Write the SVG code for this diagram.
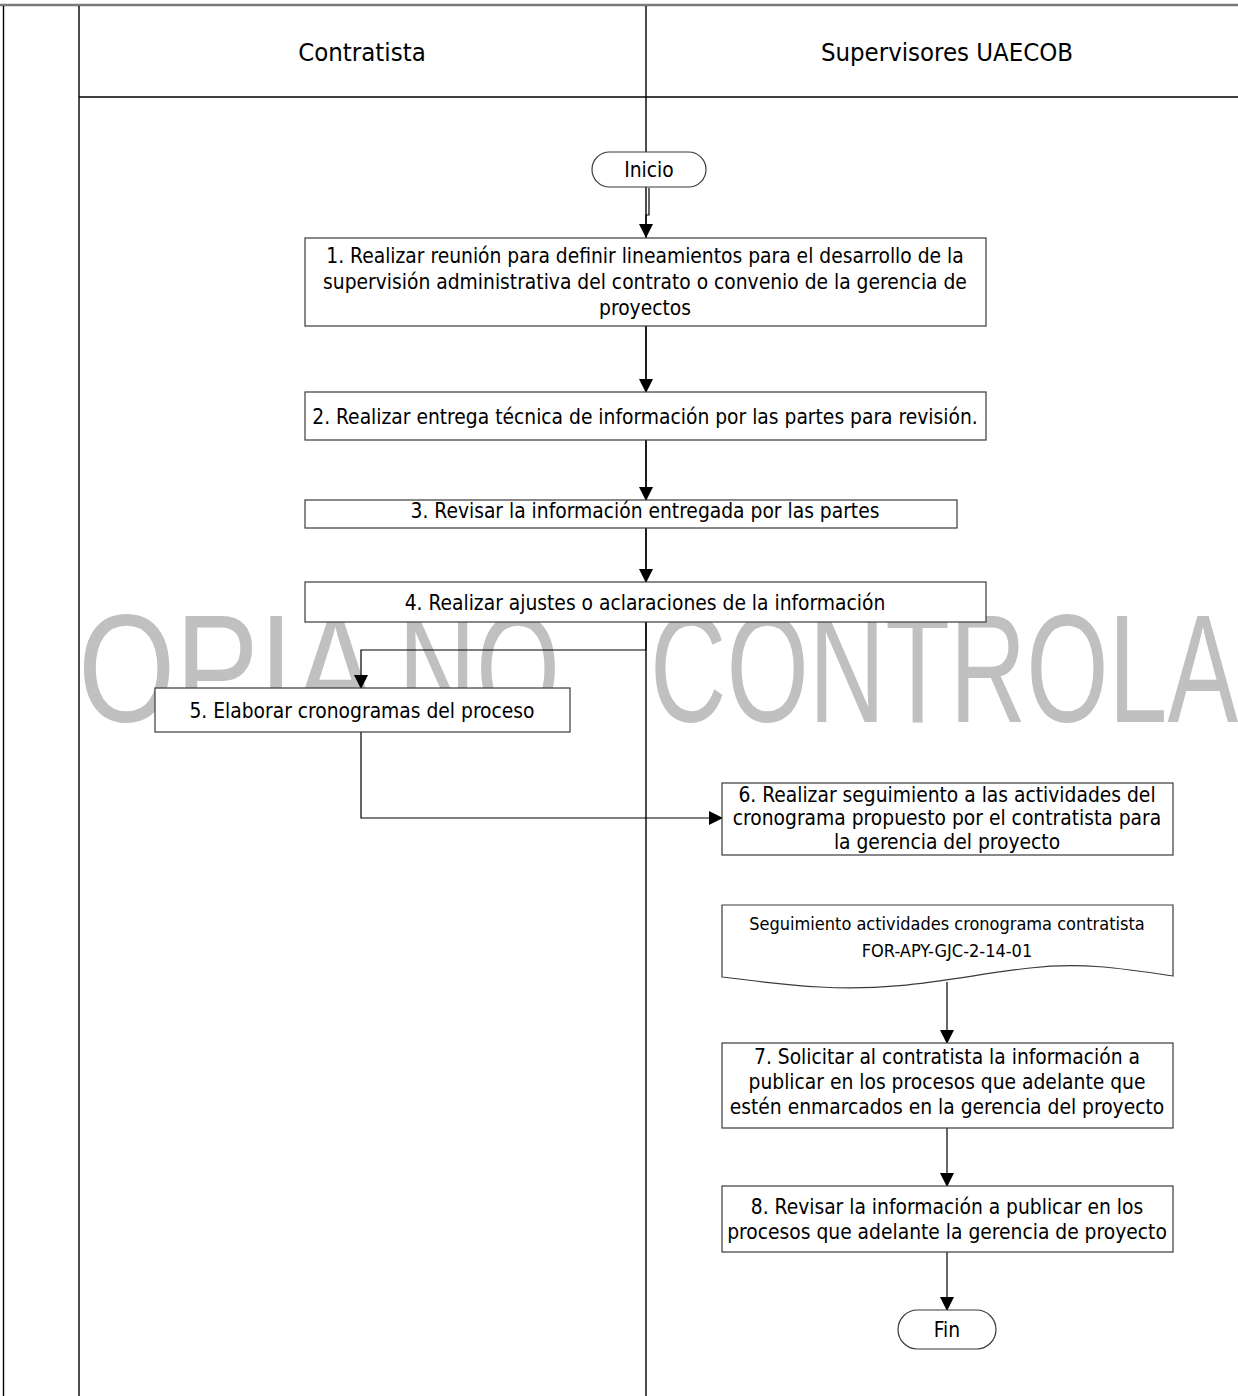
<svg xmlns="http://www.w3.org/2000/svg" width="1238" height="1396" viewBox="0 0 1238 1396">
<style>
.lane{stroke:#000;stroke-width:1.4;fill:none}
.box{fill:#fff;stroke:#3a3a3a;stroke-width:1.2}
.t{font-family:"DejaVu Sans Condensed","DejaVu Sans",sans-serif;font-size:20.8px;fill:#000;text-anchor:middle}
.h{font-family:"DejaVu Sans Condensed","DejaVu Sans",sans-serif;font-size:25.5px;fill:#000;text-anchor:middle}
.s{font-family:"DejaVu Sans Condensed","DejaVu Sans",sans-serif;font-size:18px;fill:#000;text-anchor:middle}
.c{stroke:#000;stroke-width:1.2;fill:none;marker-end:url(#ah)}
.wm{font-family:"Liberation Sans",Arial,sans-serif;font-size:154px;fill:#c0c0c0}
</style>
<defs>
<marker id="ah" markerWidth="14" markerHeight="14" refX="13" refY="7" orient="auto" markerUnits="userSpaceOnUse">
<path d="M0,0 L14,7 L0,14 Z" fill="#000"/>
</marker>
</defs>
<rect x="0" y="0" width="1238" height="1396" fill="#fff"/>
<g id="watermark">
<text class="wm" y="722"><tspan x="78" textLength="292" lengthAdjust="spacingAndGlyphs">OPIA</tspan> <tspan x="398" textLength="162" lengthAdjust="spacingAndGlyphs">NO</tspan> <tspan x="650" textLength="588" lengthAdjust="spacingAndGlyphs">CONTROLA</tspan></text>
</g>
<g id="pool">
<line x1="0" y1="5" x2="1238" y2="5" stroke="#7a7a7a" stroke-width="2.5"/>
<line class="lane" x1="3.5" y1="6" x2="3.5" y2="1396"/>
<line class="lane" x1="79" y1="6" x2="79" y2="1396"/>
<line class="lane" x1="646" y1="6" x2="646" y2="1396" stroke-width="1.1"/>
<line class="lane" x1="79" y1="97" x2="1238" y2="97" stroke-width="1.1"/>
<text class="h" x="362" y="61">Contratista</text>
<text class="h" x="947" y="61">Supervisores UAECOB</text>
</g>
<g id="connectors">
<path class="c" d="M649,188 V215 H646 V237"/>
<path class="c" d="M646,326 V392"/>
<path class="c" d="M646,440 V500"/>
<path class="c" d="M646,528 V582"/>
<path class="c" d="M646,622 V650 H361 V688"/>
<path class="c" d="M361,732 V818 H722"/>
<path class="c" d="M947,982 V1043"/>
<path class="c" d="M947,1128 V1186"/>
<path class="c" d="M947,1252 V1310"/>
</g>
<g id="inicio">
<rect class="box" x="592" y="152" width="114" height="35" rx="17.5"/>
<text class="t" x="649" y="177">Inicio</text>
</g>
<g id="n1">
<rect class="box" x="305" y="238" width="681" height="88"/>
<text class="t" x="645" y="263">1. Realizar reunión para definir lineamientos para el desarrollo de la</text>
<text class="t" x="645" y="289">supervisión administrativa del contrato o convenio de la gerencia de</text>
<text class="t" x="645" y="315">proyectos</text>
</g>
<g id="n2">
<rect class="box" x="305" y="392" width="681" height="48"/>
<text class="t" x="645" y="424">2. Realizar entrega técnica de información por las partes para revisión.</text>
</g>
<g id="n3">
<rect class="box" x="305" y="500" width="652" height="28"/>
<text class="t" x="645" y="518">3. Revisar la información entregada por las partes</text>
</g>
<g id="n4">
<rect class="box" x="305" y="582" width="681" height="40"/>
<text class="t" x="645" y="610">4. Realizar ajustes o aclaraciones de la información</text>
</g>
<g id="n5">
<rect class="box" x="155" y="688" width="415" height="44"/>
<text class="t" x="362" y="718">5. Elaborar cronogramas del proceso</text>
</g>
<g id="n6">
<rect class="box" x="722" y="783" width="451" height="72"/>
<text class="t" x="947" y="802">6. Realizar seguimiento a las actividades del</text>
<text class="t" x="947" y="825">cronograma propuesto por el contratista para</text>
<text class="t" x="947" y="849">la gerencia del proyecto</text>
</g>
<g id="doc">
<path class="box" d="M722,905 H1173 V976 C1120,968 1080,962 1030,968 C960,976 900,992 820,987 C780,985 750,980 722,977 Z"/>
<text class="s" x="947" y="930">Seguimiento actividades cronograma contratista</text>
<text class="s" x="947" y="957">FOR-APY-GJC-2-14-01</text>
</g>
<g id="n7">
<rect class="box" x="722" y="1043" width="451" height="85"/>
<text class="t" x="947" y="1064">7. Solicitar al contratista la información a</text>
<text class="t" x="947" y="1089">publicar en los procesos que adelante que</text>
<text class="t" x="947" y="1114">estén enmarcados en la gerencia del proyecto</text>
</g>
<g id="n8">
<rect class="box" x="722" y="1186" width="451" height="66"/>
<text class="t" x="947" y="1214">8. Revisar la información a publicar en los</text>
<text class="t" x="947" y="1239">procesos que adelante la gerencia de proyecto</text>
</g>
<g id="fin">
<rect class="box" x="898" y="1310" width="98" height="39" rx="19.5"/>
<text class="t" x="947" y="1337">Fin</text>
</g>
</svg>
